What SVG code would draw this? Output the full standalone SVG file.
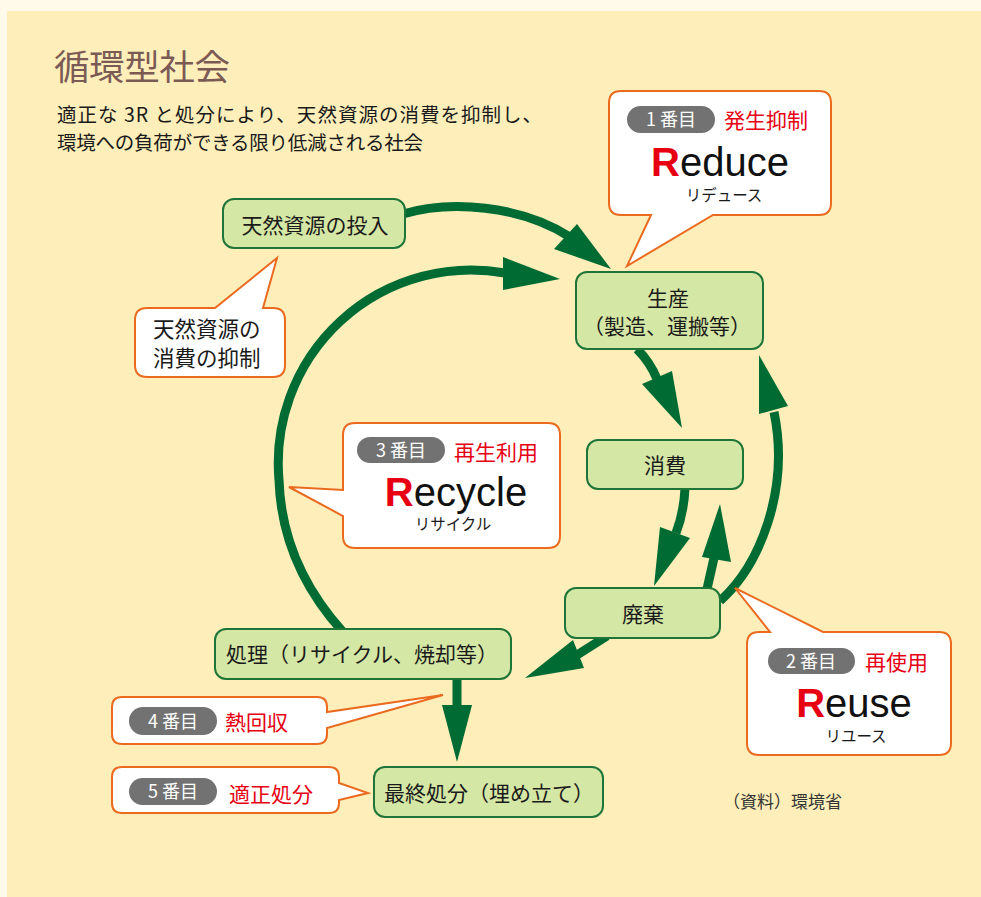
<svg xmlns="http://www.w3.org/2000/svg" width="981" height="897" viewBox="0 0 981 897">
<style>
.jp{font-family:"Noto Sans CJK JP","Noto Sans",sans-serif;}
.node rect{fill:#D5E7A5;stroke:#1F7538;stroke-width:2;}
.nt{font-family:"Noto Sans CJK JP",sans-serif;font-size:21px;fill:#1a1a1a;text-anchor:middle;}
.co{fill:#FFFFFF;stroke:#EA6A1F;stroke-width:2;stroke-linejoin:miter;}
.pill{fill:#727272;}
.pt{font-family:"Noto Sans CJK JP",sans-serif;font-size:18px;fill:#FFFFFF;text-anchor:middle;}
.red{font-family:"Noto Sans CJK JP",sans-serif;font-size:21px;fill:#E60012;}
.big{font-family:"Liberation Sans",Arial,sans-serif;font-size:40px;fill:#111111;text-anchor:middle;}
.big .R{fill:#E60012;font-weight:bold;}
.kana{font-family:"Noto Sans CJK JP",sans-serif;font-size:15.5px;fill:#1a1a1a;text-anchor:middle;}
.ln{fill:none;stroke:#006B33;stroke-width:9;}
.hd{fill:#006B33;}
</style>
<rect x="0" y="0" width="981" height="897" fill="#FFFAEA"/>
<rect x="7" y="11" width="974" height="886" fill="#FEEFBA"/>
<text x="54" y="80" class="jp" font-size="35.5" fill="#7B5A55" textLength="176" lengthAdjust="spacing">循環型社会</text>
<text x="57" y="122" class="jp" font-size="19.5" fill="#1a1a1a" textLength="485" lengthAdjust="spacing">適正な 3R と処分により、天然資源の消費を抑制し、</text>
<text x="57" y="150" class="jp" font-size="19.5" fill="#1a1a1a" textLength="366" lengthAdjust="spacing">環境への負荷ができる限り低減される社会</text>

<g id="connectors">
<path class="ln" stroke-width="10" d="M403,214 C450,200 520,205 570,237"/>
<polygon class="hd" points="611,269 554,249 577,224"/>
<path class="ln" d="M343,632 C305,590 281,540 279,480 A193,193 0 0 1 505,273"/>
<polygon class="hd" points="560,279 503,257 503,290"/>
<path class="ln" stroke-width="10" d="M637,349 Q650,362 657,379"/>
<polygon class="hd" points="642,384 672,371 682,428"/>
<path class="ln" d="M685,488 Q684,512 676,533"/>
<polygon class="hd" points="660,527 690,538 654,586"/>
<path class="ln" d="M707,589 L714,558"/>
<polygon class="hd" points="702,557 731,562 720,504"/>
<path class="ln" d="M720,601 C760,565 790,490 774,412"/>
<polygon class="hd" points="759,355 759,414 788,406"/>
<path class="ln" d="M607,636 L577,655"/>
<polygon class="hd" points="573,640 584,668 525,678"/>
<path class="ln" d="M457,678 V707"/>
<polygon class="hd" points="442,705 472,705 457,762"/>
</g>

<g id="node-input" class="node">
<rect x="223" y="199" width="182" height="49" rx="11"/>
<text x="315" y="233" class="nt" font-size="22">天然資源の投入</text>
</g>
<g id="node-production" class="node">
<rect x="576" y="272" width="187" height="77" rx="11"/>
<text x="668" y="306" class="nt" font-size="21.5">生産</text>
<text x="667" y="334" class="nt" font-size="20.5">（製造、運搬等）</text>
</g>
<g id="node-consumption" class="node">
<rect x="587" y="440" width="156" height="49" rx="11"/>
<text x="665" y="473" class="nt" font-size="21.5">消費</text>
</g>
<g id="node-disposal" class="node">
<rect x="565" y="588" width="155" height="50" rx="11"/>
<text x="643" y="622" class="nt" font-size="21.5">廃棄</text>
</g>
<g id="node-treatment" class="node">
<rect x="215" y="629" width="296" height="50" rx="11"/>
<text x="362" y="662" class="nt" font-size="20.5">処理（リサイクル、焼却等）</text>
</g>
<g id="node-final" class="node">
<rect x="374" y="767" width="229" height="50" rx="11"/>
<text x="489" y="801" class="nt" font-size="20.5">最終処分（埋め立て）</text>
</g>

<g id="callout-reduce">
<path class="co" d="M621,91 H819 Q831,91 831,103 V203 Q831,215 819,215 H713 L627,266 L651,215 H621 Q609,215 609,203 V103 Q609,91 621,91 Z"/>
<rect class="pill" x="627" y="106" width="88" height="27" rx="13.5"/>
<text x="671" y="126" class="pt">1 番目</text>
<text x="724" y="128" class="red">発生抑制</text>
<text x="720" y="176" class="big"><tspan class="R">R</tspan>educe</text>
<text x="724" y="201" class="kana">リデュース</text>
</g>

<g id="callout-resource">
<path class="co" d="M147,308 H215 L277,258 L263,308 H273 Q285,308 285,320 V365 Q285,377 273,377 H147 Q135,377 135,365 V320 Q135,308 147,308 Z"/>
<text x="153" y="337" class="jp" font-size="21.5" fill="#1a1a1a">天然資源の</text>
<text x="153" y="366" class="jp" font-size="21.5" fill="#1a1a1a">消費の抑制</text>
</g>

<g id="callout-recycle">
<path class="co" d="M355,423 H548 Q560,423 560,435 V536 Q560,548 548,548 H355 Q343,548 343,536 V516 L289,487 L343,490 V435 Q343,423 355,423 Z"/>
<rect class="pill" x="357" y="437" width="88" height="26" rx="13"/>
<text x="401" y="457" class="pt">3 番目</text>
<text x="454" y="460" class="red">再生利用</text>
<text x="456" y="506" class="big"><tspan class="R">R</tspan>ecycle</text>
<text x="453" y="530" class="kana">リサイクル</text>
</g>

<g id="callout-reuse">
<path class="co" d="M759,632 H770 L735,588 L823,632 H939 Q951,632 951,644 V743 Q951,755 939,755 H759 Q747,755 747,743 V644 Q747,632 759,632 Z"/>
<rect class="pill" x="768" y="648" width="87" height="26" rx="13"/>
<text x="811" y="668" class="pt">2 番目</text>
<text x="865" y="670" class="red">再使用</text>
<text x="854" y="717" class="big"><tspan class="R">R</tspan>euse</text>
<text x="856" y="742" class="kana">リユース</text>
</g>

<g id="callout-heat">
<path class="co" d="M122,697 H317 Q327,697 327,707 V712 L443,695 L327,728 V734 Q327,744 317,744 H122 Q112,744 112,734 V707 Q112,697 122,697 Z"/>
<rect class="pill" x="129" y="707" width="88" height="28" rx="14"/>
<text x="173" y="728" class="pt">4 番目</text>
<text x="225" y="730" class="red">熱回収</text>
</g>

<g id="callout-landfill">
<path class="co" d="M122,767 H329 Q339,767 339,777 V783 L368,793 L339,800 V803 Q339,813 329,813 H122 Q112,813 112,803 V777 Q112,767 122,767 Z"/>
<rect class="pill" x="129" y="778" width="88" height="27" rx="13.5"/>
<text x="173" y="798" class="pt">5 番目</text>
<text x="229" y="802" class="red">適正処分</text>
</g>

<text x="723" y="808" class="jp" font-size="17" fill="#333333">（資料）環境省</text>
</svg>
